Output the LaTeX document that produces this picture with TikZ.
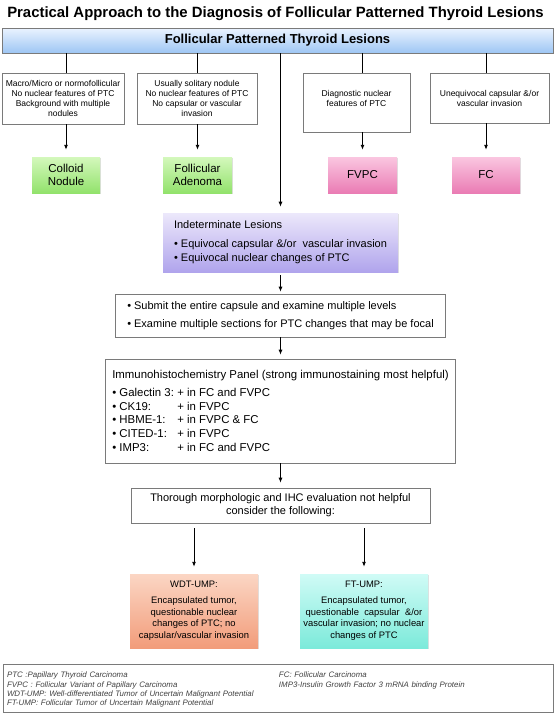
\documentclass[tikz,border=0pt]{standalone}
\usepackage{fontspec}
\setmainfont{Liberation Sans}
\usetikzlibrary{arrows.meta,shadows}
\definecolor{barTop}{HTML}{EAF3FF}
\definecolor{barBot}{HTML}{9EC6F4}
\definecolor{greenTop}{HTML}{D4F8BC}
\definecolor{greenBot}{HTML}{92E26C}
\definecolor{pinkTop}{HTML}{FAC6E0}
\definecolor{pinkBot}{HTML}{EA7CB4}
\definecolor{lilacTop}{HTML}{ECE8FB}
\definecolor{lilacBot}{HTML}{B0A4EC}
\definecolor{peachTop}{HTML}{FBD6C4}
\definecolor{peachBot}{HTML}{F29C7A}
\definecolor{aquaTop}{HTML}{D0FBF6}
\definecolor{aquaBot}{HTML}{7CEADA}
\definecolor{frameGray}{HTML}{7A7A7A}

\begin{document}
\begin{tikzpicture}[x=1pt,y=-1pt,>={Latex[length=5pt,width=4pt]}]
        \tikzset{criteria/.style={draw=frameGray,line width=0.6pt,fill=white,inner sep=1pt,align=center,
                font=\fontsize{8.5}{10}\selectfont},
                result/.style={minimum width=68pt,minimum height=36pt,inner sep=1pt,align=center,
                font=\fontsize{11.5}{13.5}\selectfont,
                drop shadow={opacity=0.25,shadow xshift=1pt,shadow yshift=-1pt}},
                stepbox/.style={draw=frameGray,line width=0.6pt,fill=white,align=left,
                font=\fontsize{11}{13}\selectfont},
                link/.style={line width=0.9pt}}
        \useasboundingbox (0,0) rectangle (555,713);
        \node[font=\fontsize{14.9}{16}\selectfont\bfseries] (title) at (275.5,14) {Practical Approach to the Diagnosis of Follicular Patterned Thyroid Lesions};
        \node[draw=frameGray,line width=0.4pt,top color=barTop,bottom color=barBot,minimum width=551pt,minimum height=25pt,
                font=\fontsize{13}{15}\selectfont\bfseries] (bar) at (277.5,40.5) {Follicular Patterned Thyroid Lesions};
        \node[criteria,minimum width=122pt,minimum height=51pt] (box1) at (63,98.5)
                {Macro/Micro or normofollicular\\No nuclear features of PTC\\Background with multiple\\nodules};
        \node[criteria,minimum width=120pt,minimum height=51pt] (box2) at (197,98.5)
                {Usually solitary nodule\\No nuclear features of PTC\\No capsular or vascular\\invasion};
        \node[criteria,minimum width=107pt,minimum height=59pt,text depth=8pt] (box3) at (356.5,102.5)
                {Diagnostic nuclear\\features of PTC};
        \node[criteria,minimum width=119pt,minimum height=50pt] (box4) at (489.5,98)
                {Unequivocal capsular \&/or\\vascular invasion};
        \node[result,top color=greenTop,bottom color=greenBot] (colloid) at (66,175) {Colloid\\Nodule};
        \node[result,top color=greenTop,bottom color=greenBot,minimum width=69pt] (adenoma) at (197.5,175) {Follicular\\Adenoma};
        \node[result,top color=pinkTop,bottom color=pinkBot,minimum width=69pt] (fvpc) at (362.5,175) {FVPC};
        \node[result,top color=pinkTop,bottom color=pinkBot] (fc) at (486,175) {FC};
        \node[stepbox,draw=none,top color=lilacTop,bottom color=lilacBot,minimum width=235pt,minimum height=59pt,
                font=\fontsize{11}{14}\selectfont,
                drop shadow={opacity=0.25,shadow xshift=1pt,shadow yshift=-1pt}] (indet) at (280.5,242.5)
                {Indeterminate Lesions\\[5pt]\textbullet\ Equivocal capsular \&/or\ \ vascular invasion\\\textbullet\ Equivocal nuclear changes of PTC};
        \node[stepbox,minimum width=330pt,minimum height=43pt] (submit) at (280.5,315.5)
                {\textbullet\ Submit the entire capsule and examine multiple levels\\[5pt]\textbullet\ Examine multiple sections for PTC changes that may be focal};
        \node[stepbox,minimum width=350pt,minimum height=104pt,font=\fontsize{11.4}{13.8}\selectfont] (immuno) at (280.5,411)
                {Immunohistochemistry Panel (strong immunostaining most helpful)\\[4pt]
                \makebox[65pt][l]{\textbullet\ Galectin 3:}+ in FC and FVPC\\
                \makebox[65pt][l]{\textbullet\ CK19:}+ in FVPC\\
                \makebox[65pt][l]{\textbullet\ HBME-1:}+ in FVPC \& FC\\
                \makebox[65pt][l]{\textbullet\ CITED-1:}+ in FVPC\\
                \makebox[65pt][l]{\textbullet\ IMP3:}+ in FC and FVPC};
        \node[stepbox,align=center,minimum width=299pt,minimum height=35pt] (thorough) at (280.5,505.5)
                {Thorough morphologic and IHC evaluation not helpful\\consider the following:};
        \node[result,top color=peachTop,bottom color=peachBot,minimum width=128pt,minimum height=74pt,
                font=\fontsize{9.4}{11.7}\selectfont] (wdt) at (194,611)
                {WDT-UMP:\\[4pt]Encapsulated tumor,\\questionable nuclear\\changes of PTC; no\\capsular/vascular invasion};
        \node[result,top color=aquaTop,bottom color=aquaBot,minimum width=128pt,minimum height=74pt,
                font=\fontsize{9.4}{11.7}\selectfont] (ftump) at (364,611)
                {FT-UMP:\\[4pt]Encapsulated tumor,\\questionable\ \ capsular\ \ \&/or\\vascular invasion; no nuclear\\changes of PTC};
        \node[draw=frameGray,line width=0.6pt,minimum width=550pt,minimum height=48pt,inner xsep=4pt,text width=542pt,
                align=left,text=black!75,font=\fontsize{7.9}{9.4}\selectfont\itshape] (legend) at (278,688)
                {\raisebox{-2pt}[\height][\depth]{\begin{tabular}{@{}p{272pt}@{}l@{}}
                PTC :Papillary Thyroid Carcinoma & FC: Follicular Carcinoma\\
                FVPC : Follicular Variant of Papillary Carcinoma & IMP3-Insulin Growth Factor 3 mRNA binding Protein\\
                WDT-UMP: Well-differentiated Tumor of Uncertain Malignant Potential & \\
                FT-UMP: Follicular Tumor of Uncertain Malignant Potential &
                \end{tabular}}};
        \draw[link] (bar.south -| colloid) -- (box1.north -| colloid);
        \draw[link] (bar.south -| adenoma) -- (box2.north -| adenoma);
        \draw[link] (bar.south -| fvpc) -- (box3.north -| fvpc);
        \draw[link] (bar.south -| fc) -- (box4.north -| fc);
        \draw[link,->,shorten >=7pt] (box1.south -| colloid) -- (colloid);
        \draw[link,->,shorten >=7pt] (box2.south -| adenoma) -- (adenoma);
        \draw[link,->,shorten >=7pt] (box3.south -| fvpc) -- (fvpc);
        \draw[link,->,shorten >=7pt] (box4.south -| fc) -- (fc);
        \draw[link,->,shorten >=6pt] (bar.south -| indet) -- (indet);
        \draw[link,->,shorten <=3pt,shorten >=2pt] (indet) -- (submit);
        \draw[link,->,shorten >=4pt] (submit) -- (immuno);
        \draw[link,->,shorten >=5pt] (immuno) -- (thorough);
        \draw[link,->,shorten <=5pt,shorten >=7pt] (thorough.south -| wdt) -- (wdt);
        \draw[link,->,shorten <=5pt,shorten >=7pt] (thorough.south -| ftump) -- (ftump);
\end{tikzpicture}
\end{document}
